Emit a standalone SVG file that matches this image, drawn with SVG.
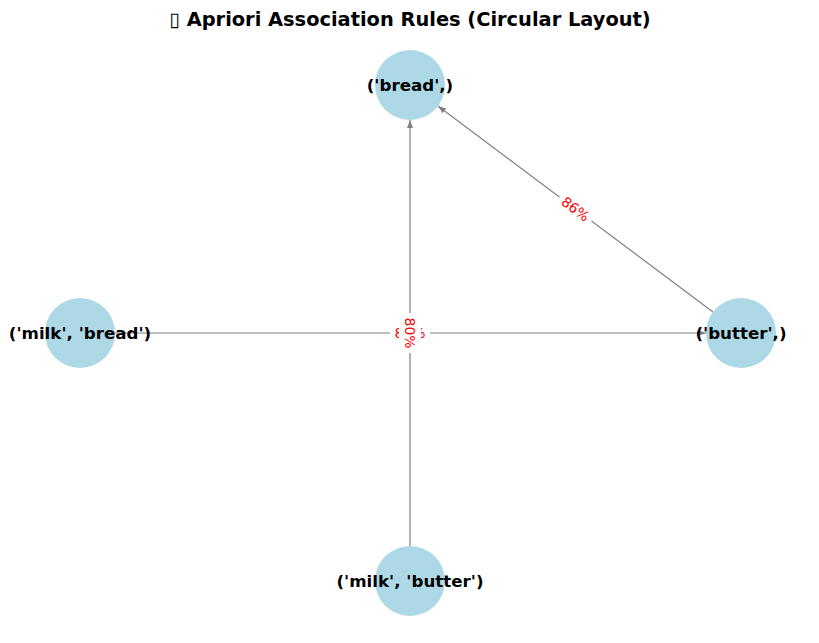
<svg xmlns="http://www.w3.org/2000/svg" width="819" height="643" viewBox="0 0 819 643">
<defs>
<style>
.node{fill:#add8e6}
.nl{font-family:"DejaVu Sans","Liberation Sans",sans-serif;font-weight:bold;font-size:16.7px;fill:#000;text-anchor:middle}
.edge{stroke:#808080;stroke-width:1.2;fill:none}
.el{font-family:"DejaVu Sans","Liberation Sans",sans-serif;font-size:13.9px;fill:#ff0000;text-anchor:middle}
.bb{fill:#fff}
</style>
<marker id="arr" markerUnits="userSpaceOnUse" markerWidth="12" markerHeight="12" viewBox="-10 -6 12 12" refX="0" refY="0" orient="auto">
<path d="M0,0 L-8,-3 L-8,3 Z" fill="#808080"/>
</marker>
</defs>
<rect width="819" height="643" fill="#fff"/>
<text x="410" y="25.5" font-family="DejaVu Sans,Liberation Sans,sans-serif" font-weight="bold" font-size="19.4" text-anchor="middle">▯ Apriori Association Rules (Circular Layout)</text>
<g id="connectors">
<line class="edge" x1="410" y1="546" x2="410" y2="120" marker-end="url(#arr)"/>
<line class="edge" x1="713" y1="312" x2="438" y2="106" marker-end="url(#arr)"/>
<line class="edge" x1="115" y1="333" x2="706" y2="333" marker-end="url(#arr)"/>
<g transform="translate(575.5,209) rotate(36.8)">
<rect class="bb" x="-20" y="-11" width="40" height="22" rx="3"/>
<text class="el" x="0" y="5">86%</text>
</g>
<g transform="translate(410,333)">
<rect class="bb" x="-20" y="-11" width="40" height="22" rx="3"/>
<text class="el" x="0" y="5">80%</text>
</g>
<g transform="translate(410,333) rotate(90)">
<rect class="bb" x="-20" y="-11" width="40" height="22" rx="3"/>
<text class="el" x="0" y="5">80%</text>
</g>
</g>
<g id="node-bread">
<circle class="node" cx="410" cy="85" r="35"/>
<text class="nl" x="410" y="91">('bread',)</text>
</g>
<g id="node-milk-bread">
<circle class="node" cx="80" cy="333" r="35"/>
<text class="nl" x="80" y="339">('milk', 'bread')</text>
</g>
<g id="node-butter">
<circle class="node" cx="741" cy="333" r="35"/>
<text class="nl" x="741" y="339">('butter',)</text>
</g>
<g id="node-milk-butter">
<circle class="node" cx="410" cy="581" r="35"/>
<text class="nl" x="410" y="587">('milk', 'butter')</text>
</g>
</svg>
